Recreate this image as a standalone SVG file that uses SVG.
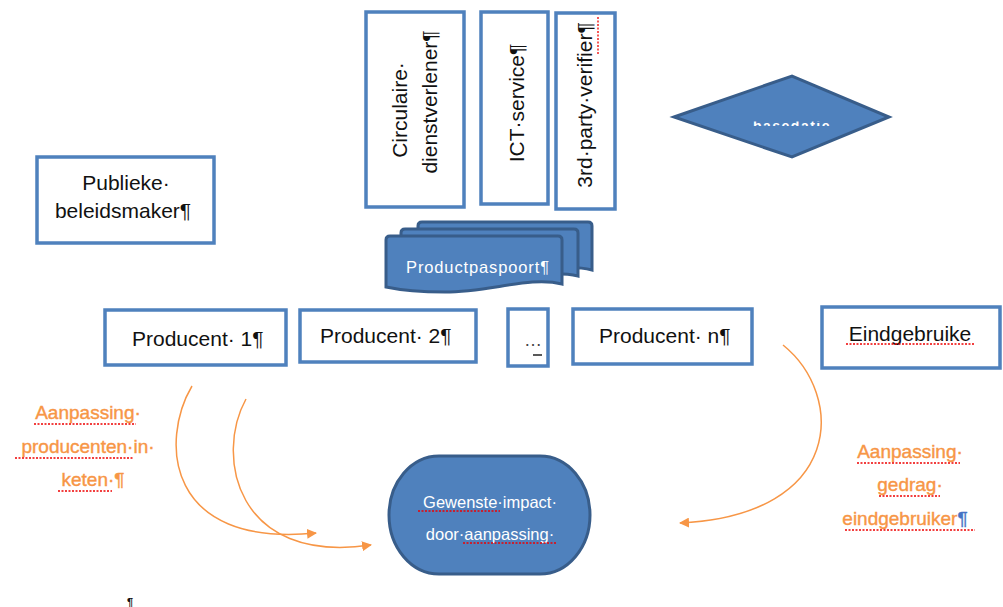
<svg xmlns="http://www.w3.org/2000/svg" width="1003" height="607" viewBox="0 0 1003 607">
<style>
.box{fill:#fff;stroke:#4F81BD;stroke-width:3.5}
.shape{fill:#4F81BD;stroke:#385D8A;stroke-width:3}
.t{font-family:"Liberation Sans",Arial,sans-serif;fill:#111;font-size:21px}
.w{font-family:"Liberation Sans",Arial,sans-serif;fill:#fff}
.o{font-family:"Liberation Sans",Arial,sans-serif;fill:#F79646;font-size:19px;text-anchor:middle;stroke:#F79646;stroke-width:0.4}
.sq{fill:none;stroke:#E00;stroke-width:1.3;stroke-dasharray:2 1.5}
.conn{fill:none;stroke:#F79646;stroke-width:1.5}
</style>
<defs>
<marker id="ah" markerWidth="10" markerHeight="10" refX="9" refY="5" orient="auto" markerUnits="userSpaceOnUse" viewBox="0 0 10 10">
<path d="M0,0 L10,5 L0,10 Z" fill="#F79646"/>
</marker>
<clipPath id="clipD"><rect x="700" y="121.5" width="180" height="4.5"/></clipPath>
<clipPath id="clipE"><rect x="822" y="300" width="178" height="55.5"/></clipPath>
</defs>
<rect width="1003" height="607" fill="#fff"/>

<g id="circulaire">
<rect class="box" x="366" y="12" width="98" height="195"/>
<text class="t" text-anchor="middle" transform="translate(407,110) rotate(-90)">Circulaire·</text>
<text class="t" text-anchor="middle" transform="translate(437,102) rotate(-90)">dienstverlener¶</text>
</g>
<g id="ict">
<rect class="box" x="481" y="12" width="67" height="192"/>
<text class="t" text-anchor="middle" transform="translate(524,103) rotate(-90)">ICT·service¶</text>
</g>
<g id="verifier">
<rect class="box" x="556" y="13" width="59" height="196"/>
<text class="t" text-anchor="middle" transform="translate(592,105) rotate(-90)">3rd·party·verifier¶</text>
<line class="sq" x1="598" y1="17" x2="598" y2="55"/>
</g>
<g id="basedata">
<path class="shape" d="M674,117 L792,76 L889,117 L792,157 Z"/>
<text class="w" font-size="14" font-weight="bold" text-anchor="middle" x="792" y="131" letter-spacing="1.5" clip-path="url(#clipD)">basedatie</text>
</g>
<g id="publieke">
<rect class="box" x="37" y="157" width="177" height="86"/>
<text class="t" text-anchor="middle" x="126" y="190">Publieke·</text>
<text class="t" text-anchor="middle" x="123" y="218">beleidsmaker¶</text>
</g>
<g id="productpaspoort">
<path class="shape" d="M418,226 Q418,222 422,222 H588 Q592,222 592,226 V270 C560,262 520,276 480,276 C455,276 435,274 418,271 Z"/>
<path class="shape" d="M401,233 Q401,229 405,229 H574 Q578,229 578,233 V276 C545,268 505,283 465,283 C440,283 420,281 401,278 Z"/>
<path class="shape" d="M386,240 Q386,236 390,236 H558 Q562,236 562,240 V284 C530,276 490,292 445,292 C420,292 400,290 386,287 Z"/>
<text class="w" font-size="16.5" x="406" y="273" textLength="143">Productpaspoort¶</text>
</g>
<g id="producent1">
<rect class="box" x="105" y="310" width="181" height="55"/>
<text class="t" x="132" y="346">Producent· 1¶</text>
</g>
<g id="producent2">
<rect class="box" x="300" y="310" width="176" height="52"/>
<text class="t" x="320" y="343">Producent· 2¶</text>
</g>
<g id="dots">
<rect class="box" x="508" y="309" width="40" height="57"/>
<text font-family="Liberation Sans,Arial,sans-serif" font-size="18" fill="#444" x="524" y="346">…</text>
<line x1="533" y1="355" x2="542" y2="355" stroke="#222" stroke-width="1.5"/>
</g>
<g id="producentn">
<rect class="box" x="573" y="309" width="179" height="55"/>
<text class="t" x="599" y="343">Producent· n¶</text>
</g>
<g id="eindgebruiker">
<rect class="box" x="822" y="307" width="178" height="61"/>
<text class="t" text-anchor="middle" x="910" y="341">Eindgebruike</text>
<line class="sq" x1="846" y1="344" x2="975" y2="344"/>
<text class="t" text-anchor="middle" x="911" y="370" font-size="18" clip-path="url(#clipE)">¶</text>
</g>
<g id="impact">
<rect class="shape" x="389" y="456" width="201" height="118" rx="50" ry="60"/>
<text class="w" font-size="16.5" text-anchor="middle" x="490" y="508">Gewenste·impact·</text>
<text class="w" font-size="16.5" text-anchor="middle" x="490" y="540">door·aanpassing·</text>
<line class="sq" x1="418" y1="511" x2="500" y2="511"/>
<line class="sq" x1="463" y1="543" x2="556" y2="543"/>
</g>
<g id="label-producenten">
<text class="o" x="88" y="419">Aanpassing·</text>
<text class="o" x="88" y="453">producenten·in·</text>
<text class="o" x="93" y="486">keten·¶</text>
<line class="sq" x1="34" y1="424" x2="136" y2="424"/>
<line class="sq" x1="15" y1="458" x2="133" y2="458"/>
<line class="sq" x1="58" y1="491" x2="112" y2="491"/>
</g>
<g id="label-eindgebruiker">
<text class="o" x="910" y="458">Aanpassing·</text>
<text class="o" x="910" y="491">gedrag·</text>
<text class="o" x="905" y="525">eindgebruiker<tspan fill="#4472C4" stroke="#4472C4">¶</tspan></text>
<line class="sq" x1="857" y1="463" x2="960" y2="463"/>
<line class="sq" x1="879" y1="496" x2="940" y2="496"/>
<line class="sq" x1="845" y1="530" x2="975" y2="530"/>
</g>
<text id="pilcrow" font-family="Liberation Sans,Arial,sans-serif" font-size="11" font-weight="bold" fill="#111" x="127" y="606">¶</text>

<g id="connectors">
<path class="conn" marker-end="url(#ah)" d="M192,386 C160,440 165,548 316,533"/>
<path class="conn" marker-end="url(#ah)" d="M246,399 C215,455 235,565 371,545"/>
<path class="conn" marker-end="url(#ah)" d="M783,345 C845,395 845,515 680,523"/>
</g>
</svg>
